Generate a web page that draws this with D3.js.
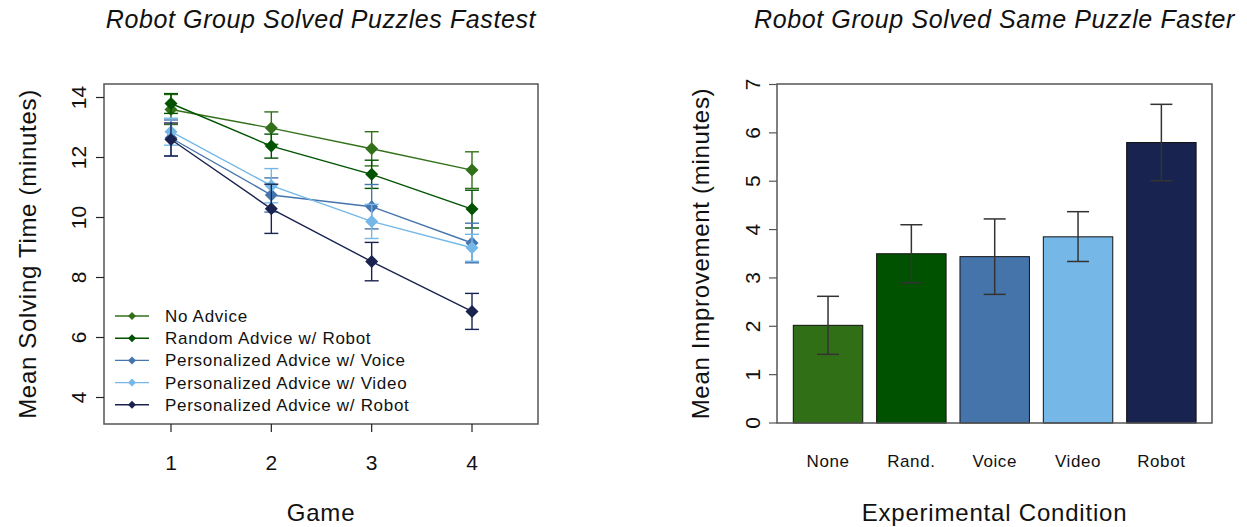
<!DOCTYPE html>
<html>
<head>
<meta charset="utf-8">
<script src="https://cdn.jsdelivr.net/npm/d3@7"></script>
<style>
  body { margin: 0; background: #fff; }
  svg { display: block; font-family: "Liberation Sans", Arial, Helvetica, sans-serif; }
</style>
</head>
<body>
<svg id="chart" width="1247" height="527"></svg>
<script>
// ---------- DATA ----------
const games = [1, 2, 3, 4];
const seriesNames = ["No Advice", "Random Advice w/ Robot", "Personalized Advice w/ Voice", "Personalized Advice w/ Video", "Personalized Advice w/ Robot"];
const seriesColors = ["#33701a", "#015201", "#4575ad", "#75b8e8", "#1a2350"];
const noAdvice   = [13.60, 12.98, 12.29, 11.58];
const randRobot  = [13.80, 12.38, 11.44, 10.28];
const persVoice  = [12.65, 10.75, 10.36, 9.15];
const persVideo  = [12.86, 11.06, 9.87, 8.99];
const persRobot  = [12.60, 10.29, 8.53, 6.87];
const noAdviceErr  = [0.50, 0.54, 0.57, 0.61];
const randRobotErr = [0.33, 0.40, 0.47, 0.63];
const persVoiceErr = [0.60, 0.57, 0.74, 0.66];
const persVideoErr = [0.45, 0.57, 0.57, 0.45];
const persRobotErr = [0.55, 0.82, 0.64, 0.60];
const leftYTicks = [4, 6, 8, 10, 12, 14];

const conditions = ["None", "Rand.", "Voice", "Video", "Robot"];
const improvement = [2.02, 3.50, 3.44, 3.85, 5.80];
const improvementLo = [1.42, 2.90, 2.66, 3.34, 5.01];
const improvementHi = [2.62, 4.10, 4.22, 4.37, 6.59];
const barColors = ["#316f17", "#005200", "#4574ab", "#75b8e8", "#19234f"];
const rightYTicks = [0, 1, 2, 3, 4, 5, 6, 7];

const seriesValues = [noAdvice, randRobot, persVoice, persVideo, persRobot];
const seriesErrs = [noAdviceErr, randRobotErr, persVoiceErr, persVideoErr, persRobotErr];

// ---------- LAYOUT ----------
const svg = d3.select("#chart");
const boxColor = "#555";
const tickLen = 8;

// ---------- LEFT PLOT ----------
const L = { x0: 104, x1: 538, y0: 84, y1: 424 };
const xL = d3.scaleLinear().domain([1, 4]).range([171, 472]);
const yL = d3.scaleLinear().domain([4, 14]).range([397.5, 97.5]);

const gL = svg.append("g");

const diamond = r => `M0,${-r}L${r},0L0,${r}L${-r},0Z`;
seriesValues.forEach((vals, si) => {
  const col = seriesColors[si];
  const pts = games.map((g, i) => ({ g, v: vals[i], e: seriesErrs[si][i] }));
  const line = d3.line().x(d => xL(d.g)).y(d => yL(d.v));
  gL.append("path").attr("d", line(pts)).attr("fill", "none")
    .attr("stroke", col).attr("stroke-width", 1.4);
  const eb = gL.append("g").attr("stroke", col).attr("stroke-width", 1.4).attr("fill", "none");
  pts.forEach(d => {
    const x = xL(d.g), yh = yL(d.v + d.e), yl = yL(d.v - d.e);
    eb.append("line").attr("x1", x).attr("x2", x).attr("y1", yh).attr("y2", yl);
    eb.append("line").attr("x1", x - 7).attr("x2", x + 7).attr("y1", yh).attr("y2", yh);
    eb.append("line").attr("x1", x - 7).attr("x2", x + 7).attr("y1", yl).attr("y2", yl);
  });
  gL.selectAll(null).data(pts).enter().append("path")
    .attr("d", diamond(6.5))
    .attr("transform", d => `translate(${xL(d.g)},${yL(d.v)})`)
    .attr("fill", col);
});

gL.append("rect").attr("x", L.x0).attr("y", L.y0)
  .attr("width", L.x1 - L.x0).attr("height", L.y1 - L.y0)
  .attr("fill", "none").attr("stroke", boxColor).attr("stroke-width", 1.5);

leftYTicks.forEach(t => {
  const y = yL(t);
  gL.append("line").attr("x1", L.x0 - tickLen).attr("x2", L.x0).attr("y1", y).attr("y2", y)
    .attr("stroke", "#222").attr("stroke-width", 1.2);
  gL.append("text").text(t)
    .attr("transform", `translate(86,${y}) rotate(-90)`)
    .attr("text-anchor", "middle").attr("font-size", 21).attr("fill", "#111");
});
games.forEach(g => {
  const x = xL(g);
  gL.append("line").attr("x1", x).attr("x2", x).attr("y1", L.y1).attr("y2", L.y1 + tickLen)
    .attr("stroke", "#222").attr("stroke-width", 1.2);
  gL.append("text").text(g).attr("x", x).attr("y", 470)
    .attr("text-anchor", "middle").attr("font-size", 21).attr("fill", "#111");
});

seriesNames.forEach((name, i) => {
  const y = 316 + i * 22.2;
  const col = seriesColors[i];
  gL.append("line").attr("x1", 115).attr("x2", 149).attr("y1", y).attr("y2", y)
    .attr("stroke", col).attr("stroke-width", 1.4);
  gL.append("path").attr("d", diamond(4)).attr("transform", `translate(132,${y})`).attr("fill", col);
  gL.append("text").text(name).attr("x", 165).attr("y", y + 6)
    .attr("font-size", 17).attr("letter-spacing", 0.7).attr("fill", "#111");
});

gL.append("text").text("Robot Group Solved Puzzles Fastest")
  .attr("x", (L.x0 + L.x1) / 2).attr("y", 28).attr("text-anchor", "middle")
  .attr("font-size", 25).attr("letter-spacing", 0.6).attr("font-style", "italic").attr("fill", "#111");
gL.append("text").text("Game").attr("x", (L.x0 + L.x1) / 2).attr("y", 521)
  .attr("text-anchor", "middle").attr("font-size", 24).attr("letter-spacing", 0.8).attr("fill", "#111");
gL.append("text").text("Mean Solving Time (minutes)")
  .attr("transform", `translate(36,${(L.y0 + L.y1) / 2}) rotate(-90)`)
  .attr("text-anchor", "middle").attr("font-size", 24).attr("letter-spacing", 0.7).attr("fill", "#111");

// ---------- RIGHT PLOT ----------
const R = { x0: 777, x1: 1212, y0: 84, y1: 423 };
const xR = d3.scaleBand().domain(conditions).range([793.3, 1196.1]).paddingInner(1 / 6).paddingOuter(0);
const yR = d3.scaleLinear().domain([0, 7]).range([423, 84.5]);

const gR = svg.append("g");

gR.selectAll(null).data(conditions).enter().append("rect")
  .attr("x", d => xR(d)).attr("width", xR.bandwidth())
  .attr("y", (d, i) => yR(improvement[i])).attr("height", (d, i) => yR(0) - yR(improvement[i]))
  .attr("fill", (d, i) => barColors[i]).attr("stroke", "#111").attr("stroke-width", 1);

conditions.forEach((c, i) => {
  const x = xR(c) + xR.bandwidth() / 2;
  const yh = yR(improvementHi[i]), yl = yR(improvementLo[i]);
  const eb = gR.append("g").attr("stroke", "#333").attr("stroke-width", 1.5);
  eb.append("line").attr("x1", x).attr("x2", x).attr("y1", yh).attr("y2", yl);
  eb.append("line").attr("x1", x - 11).attr("x2", x + 11).attr("y1", yh).attr("y2", yh);
  eb.append("line").attr("x1", x - 11).attr("x2", x + 11).attr("y1", yl).attr("y2", yl);
  gR.append("text").text(c).attr("x", x).attr("y", 467)
    .attr("text-anchor", "middle").attr("font-size", 17).attr("letter-spacing", 0.6).attr("fill", "#111");
});

gR.append("rect").attr("x", R.x0).attr("y", R.y0)
  .attr("width", R.x1 - R.x0).attr("height", R.y1 - R.y0)
  .attr("fill", "none").attr("stroke", boxColor).attr("stroke-width", 1.5);

rightYTicks.forEach(t => {
  const y = yR(t);
  gR.append("line").attr("x1", R.x0 - tickLen).attr("x2", R.x0).attr("y1", y).attr("y2", y)
    .attr("stroke", "#555").attr("stroke-width", 1.2);
  gR.append("text").text(t)
    .attr("transform", `translate(760,${y}) rotate(-90)`)
    .attr("text-anchor", "middle").attr("font-size", 21).attr("fill", "#111");
});

gR.append("text").text("Robot Group Solved Same Puzzle Faster")
  .attr("x", (R.x0 + R.x1) / 2).attr("y", 28).attr("text-anchor", "middle")
  .attr("font-size", 25).attr("letter-spacing", 0.6).attr("font-style", "italic").attr("fill", "#111");
gR.append("text").text("Experimental Condition").attr("x", (R.x0 + R.x1) / 2).attr("y", 521)
  .attr("text-anchor", "middle").attr("font-size", 24).attr("letter-spacing", 0.8).attr("fill", "#111");
gR.append("text").text("Mean Improvement (minutes)")
  .attr("transform", `translate(709,${(R.y0 + R.y1) / 2}) rotate(-90)`)
  .attr("text-anchor", "middle").attr("font-size", 24).attr("letter-spacing", 0.7).attr("fill", "#111");
</script>
</body>
</html>
